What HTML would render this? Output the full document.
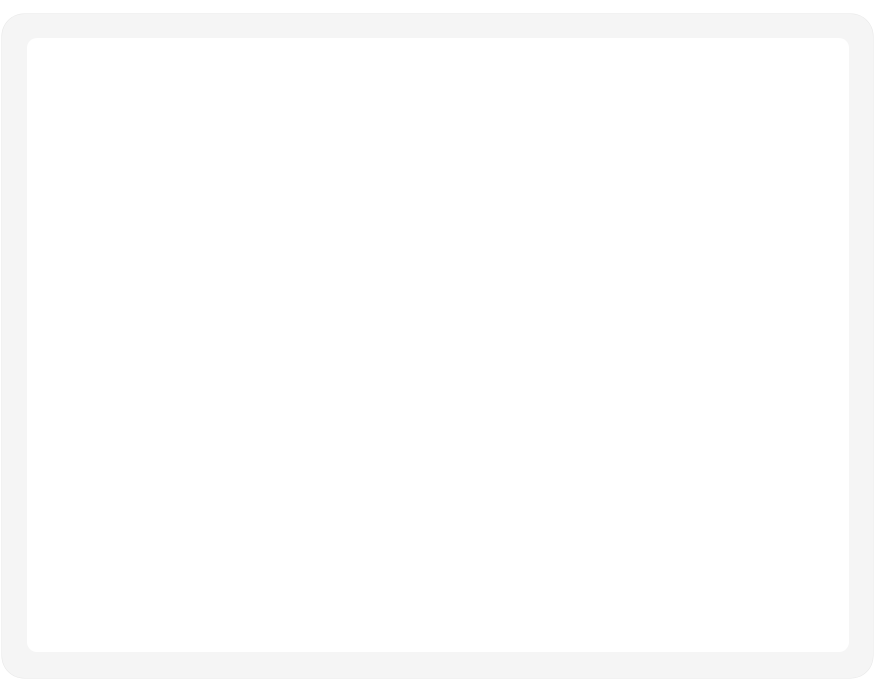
<!DOCTYPE html>
<html><head><meta charset="utf-8"><style>
html,body{margin:0;padding:0;background:#fff;width:874px;height:679px;overflow:hidden}
#frame{position:absolute;left:2px;top:14px;width:871px;height:664px;background:#f5f5f5;border-radius:22px;box-shadow:0 0 0 0.5px #e6e6e6}
#panel{position:absolute;left:25px;top:24px;width:822px;height:614px;background:#fff;border-radius:10px}
</style></head><body>
<div id="frame">
<div id="panel"></div>
</div>
</body></html>
